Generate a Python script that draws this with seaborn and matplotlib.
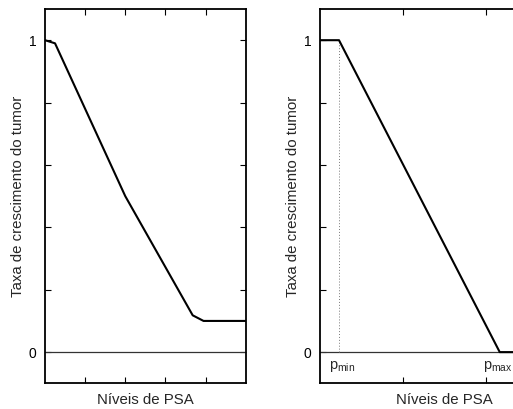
import matplotlib
matplotlib.use("Agg")
import matplotlib.pyplot as plt
import seaborn as sns
import pandas as pd

# curve values
left_x = [0.0, 0.25, 2.0, 3.68, 3.95, 5.0]
left_y = [1.0, 0.99, 0.5, 0.118, 0.10, 0.10]

right_x = [0.0, 0.23, 2.16, 3.0]
right_y = [1.0, 1.0, 0.0, 0.0]

p_min, p_max = 0.23, 2.16

y_ticks = [0, 0.2, 0.4, 0.6, 0.8, 1.0]
y_ticklabels = ["0", "", "", "", "", "1"]
xlabel = "Níveis de PSA"
ylabel = "Taxa de crescimento do tumor"

sns.set_style("ticks")
plt.rcParams['font.family'] = ['Liberation Sans', 'DejaVu Sans']
plt.rcParams['mathtext.fontset'] = 'custom'
plt.rcParams['mathtext.rm'] = 'Liberation Sans'

fig = plt.figure(figsize=(5.13, 4.09), dpi=100)
ax1 = fig.add_axes([0.0877, 0.0628, 0.3912, 0.9152])
ax2 = fig.add_axes([0.6235, 0.0628, 0.487, 0.9152])


def style_axis(ax, xmax, xticks):
    ax.set_xlim(0, xmax)
    ax.set_ylim(-0.1, 1.1)
    ax.set_xticks(xticks)
    ax.set_xticklabels([])
    ax.set_yticks(y_ticks)
    ax.set_yticklabels(y_ticklabels, fontsize=10)
    ax.tick_params(direction='in', length=4, width=0.8, top=True, right=True,
                   pad=6, colors='black')
    for s in ax.spines.values():
        s.set_linewidth(1.3)
        s.set_color('black')
    ax.axhline(0, color='#333333', lw=0.9, zorder=1)
    ax.set_ylabel(ylabel, fontsize=10.8, labelpad=3)
    # x label placed just under the axis (tick labels are empty)
    ax.set_xlabel(xlabel, fontsize=10.8)
    ax.xaxis.set_label_coords(0.5, -0.025, transform=ax.transAxes)
    ax.xaxis.label.set_va('top')


df_left = pd.DataFrame({"x": left_x, "y": left_y})
df_right = pd.DataFrame({"x": right_x, "y": right_y})

sns.lineplot(data=df_left, x="x", y="y", ax=ax1, color='black', lw=1.5,
             estimator=None, sort=False, zorder=3)
style_axis(ax1, 5, [1, 2, 3, 4])

sns.lineplot(data=df_right, x="x", y="y", ax=ax2, color='black', lw=1.5,
             estimator=None, sort=False, zorder=3)
style_axis(ax2, 3, [1, 2])
ax2.plot([p_min, p_min], [0, 1], color='#777777', lw=0.7, ls=(0, (1, 2)), zorder=2)
ax2.text(0.11, -0.045, r'$\mathregular{p_{min}}$', fontsize=10.5, va='center', ha='left')
ax2.text(1.96, -0.045, r'$\mathregular{p_{max}}$', fontsize=10.5, va='center', ha='left')

fig.savefig("out.png", dpi=100)
